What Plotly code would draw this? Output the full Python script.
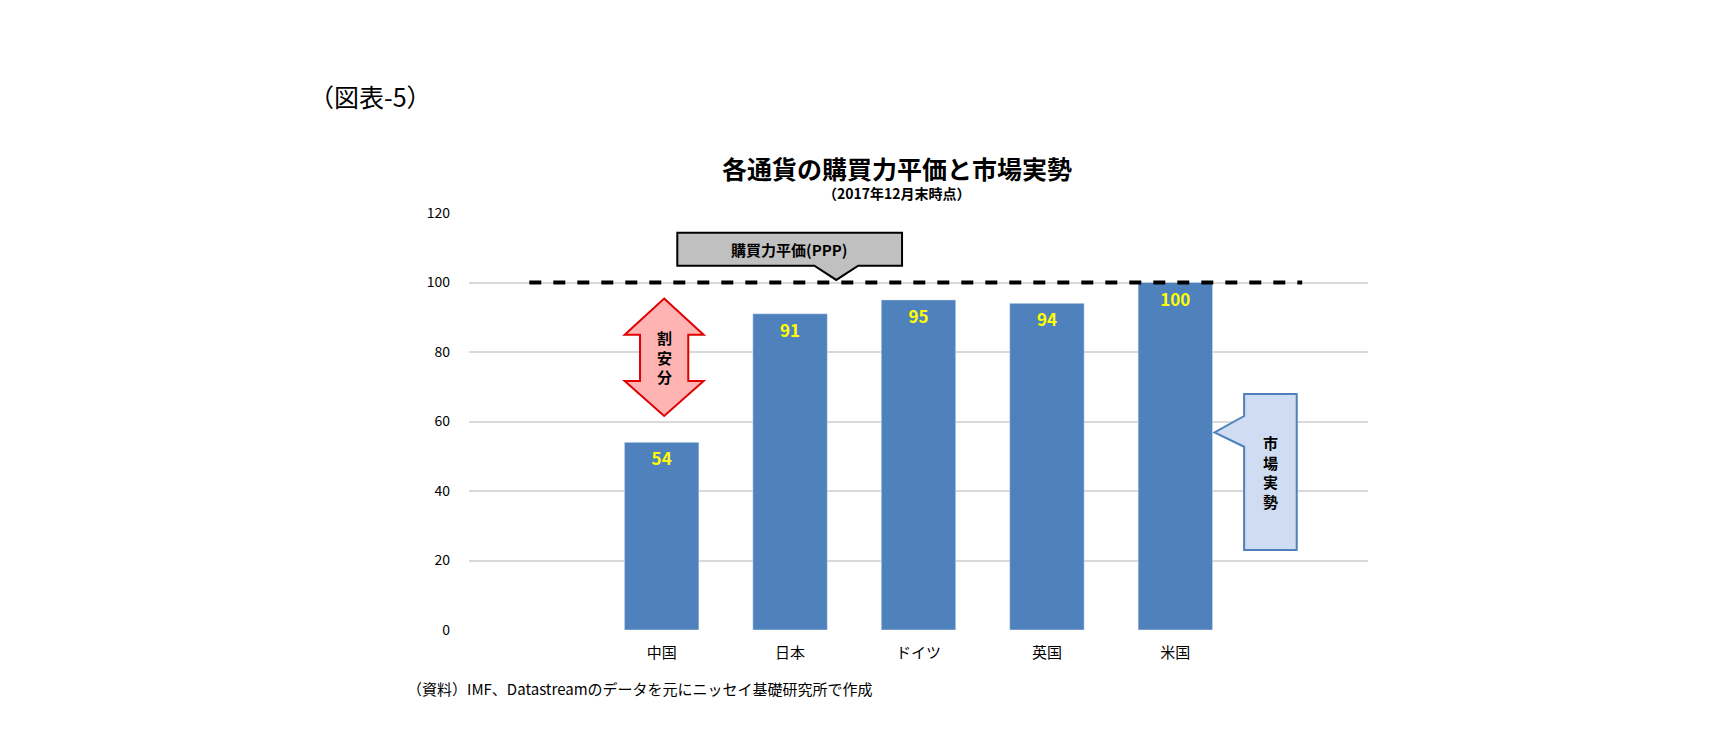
import plotly.graph_objects as go

countries = ["中国", "日本", "ドイツ", "英国", "米国"]
values = [54, 91, 95, 94, 100]
ppp_level = 100

W, H = 1711, 731
S = 1711 / 1560  # reference positions were measured on a 1560-wide view
L, R, T, B = 420 * S, 1240 * S, 187 * S, 567 * S
x_lo, x_hi = -1.5, 5.5
y_lo, y_hi = 0, 120
FONT = "Noto Sans CJK JP"


def xd(px):
    return x_lo + (px * S - L) / (R - L) * (x_hi - x_lo)


def yd(py):
    return y_lo + (B - py * S) / (B - T) * (y_hi - y_lo)


def xp(px):
    return (px * S - L) / (R - L)


def yp(py):
    return (B - py * S) / (B - T)


def path(pts):
    return "M " + " L ".join(f"{xd(a)},{yd(b)}" for a, b in pts) + " Z"


fig = go.Figure()
fig.add_trace(go.Bar(
    x=list(range(len(countries))), y=values, width=0.58,
    marker_color="#4f81bd", text=[str(v) for v in values],
    textposition="inside", insidetextanchor="end",
    textfont=dict(color="#ffff00", size=17, family=FONT),
    texttemplate="<b>%{text}</b>", cliponaxis=False,
))

shapes = [
    dict(type="line", x0=xd(475), x1=xd(1180), y0=ppp_level, y1=ppp_level,
         line=dict(color="black", width=4, dash="dash")),
    dict(type="path", path=path([(610, 205), (815, 205), (815, 235), (775, 235), (755, 248),
                                 (735, 235), (610, 235)]),
         fillcolor="#c0c0c0", line=dict(color="black", width=2)),
    dict(type="path", path=path([(598, 265), (634, 298), (620, 298), (620, 340), (634, 340),
                                 (598, 372), (562, 340), (576, 340), (576, 298), (562, 298)]),
         fillcolor="#ffb3b3", line=dict(color="#e00000", width=2)),
    dict(type="path", path=path([(1127, 352), (1175, 352), (1175, 494), (1127, 494),
                                 (1127, 400), (1100, 387), (1127, 372)]),
         fillcolor="#d0dcf2", line=dict(color="#4f81bd", width=2)),
]

annotations = [
    dict(text="<b>購買力平価(PPP)</b>", x=xd(712), y=yd(220), showarrow=False,
         font=dict(size=15, family=FONT, color="black")),
    dict(text="<b>割<br>安<br>分</b>", x=xd(598), y=yd(318), showarrow=False,
         font=dict(size=15, family=FONT, color="black")),
    dict(text="<b>市<br>場<br>実<br>勢</b>", x=xd(1151), y=yd(423), showarrow=False,
         font=dict(size=15, family=FONT, color="black")),
    dict(text="（図表-5）", xref="paper", yref="paper", x=xp(272), y=yp(62),
         xanchor="left", showarrow=False, font=dict(size=25, family=FONT, color="black")),
    dict(text="<b>各通貨の購買力平価と市場実勢</b>", xref="paper", yref="paper",
         x=xp(810), y=yp(128), showarrow=False,
         font=dict(size=25, family=FONT, color="black")),
    dict(text="<b>（2017年12月末時点）</b>", xref="paper", yref="paper",
         x=xp(810), y=yp(158), showarrow=False,
         font=dict(size=14, family=FONT, color="black")),
    dict(text="（資料）IMF、Datastreamのデータを元にニッセイ基礎研究所で作成", xref="paper", yref="paper",
         x=xp(362), y=yp(632), xanchor="left", showarrow=False,
         font=dict(size=15, family=FONT, color="black")),
]

fig.update_layout(
    width=W, height=H, margin=dict(l=L, r=W - R, t=T, b=H - B),
    plot_bgcolor="white", paper_bgcolor="white", showlegend=False,
    shapes=shapes, annotations=annotations,
    xaxis=dict(range=[x_lo, x_hi], tickvals=list(range(len(countries))), ticktext=countries,
               showgrid=False, zeroline=False, showline=False, ticks="",
               ticklabelstandoff=12,
               tickfont=dict(size=15, family=FONT, color="black")),
    yaxis=dict(range=[y_lo, y_hi], dtick=20, gridcolor="#d9d9d9", gridwidth=1.5,
               zeroline=False, ticks="", ticklabelstandoff=18,
               tickfont=dict(size=14, family=FONT, color="black")),
)
fig.write_html("out.html")
